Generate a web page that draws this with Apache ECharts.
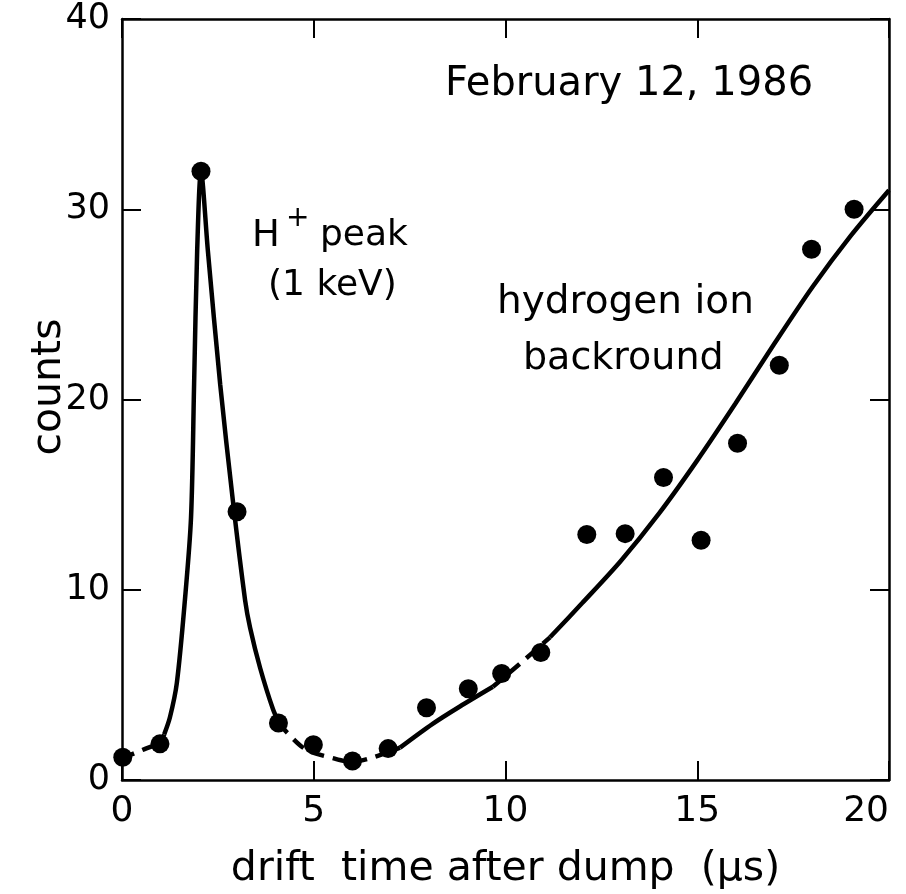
<!DOCTYPE html>
<html>
<head>
<meta charset="utf-8">
<script src="https://cdn.jsdelivr.net/npm/echarts@6/dist/echarts.min.js"></script>
<style>
html,body{margin:0;padding:0;background:#fff;overflow:hidden;}
#chart{position:absolute;left:0;top:0;width:906px;height:894px;}
</style>
</head>
<body>
<div id="chart"></div>
<script>
// Measured data points
var driftTime = [0.02, 0.99, 2.06, 3.0, 4.08, 4.99, 6.01, 6.94, 7.94, 9.03, 9.9, 10.92, 12.12, 13.12, 14.12, 15.1, 16.05, 17.14, 17.98, 19.09];
var counts    = [1.2, 1.9, 32.0, 14.1, 3.0, 1.85, 1.0, 1.65, 3.8, 4.8, 5.6, 6.7, 12.9, 12.95, 15.9, 12.6, 17.7, 21.8, 27.9, 30.0];

// Hand-drawn fit curve, split into solid and dashed pieces
var curveA_x = [0, 0.5, 1.0, 1.1];            // dashed
var curveA_y = [1.15, 1.55, 2.0, 2.4];
var curveB_x = [1.1, 1.25, 1.43, 1.64, 1.80, 1.88, 1.96, 2.06, 2.24, 2.56, 2.89, 3.21, 3.34, 3.6, 3.94, 4.1]; // solid
var curveB_y = [2.4, 3.3, 5.1, 9.45, 13.8, 20.8, 27.8, 32.0, 27.8, 20.8, 14.7, 9.45, 8.0, 5.9, 3.7, 3.0];
var curveC_x = [4.1, 4.3, 4.8, 5.5, 6.0, 6.4, 7.0, 7.25];   // dashed
var curveC_y = [3.0, 2.5, 1.6, 1.15, 0.95, 1.1, 1.5, 1.7];
var curveD_x = [7.25, 8.1, 8.8, 9.67];         // solid
var curveD_y = [1.7, 2.95, 3.85, 4.9];
var curveE_x = [9.67, 10.4, 11.16];            // dashed
var curveE_y = [4.9, 6.15, 7.5];
var curveF_x = [11.16, 12.0, 13.0, 14.0, 15.0, 16.0, 17.0, 18.0, 19.0, 20.0]; // solid
var curveF_y = [7.5, 9.3, 11.5, 14.0, 16.8, 19.8, 22.9, 25.9, 28.6, 31.0];

var xTicks = [0, 5, 10, 15, 20];
var yTicks = [0, 10, 20, 30, 40];

function pairs(xs, ys){ return xs.map(function(x,i){ return [x, ys[i]]; }); }

var FONT = 'DejaVu Sans';
var chart = echarts.init(document.getElementById('chart'), null, {renderer:'canvas'});

function curveSeries(xs, ys, dashed){
  return {
    type:'line', data:pairs(xs, ys), showSymbol:false, symbol:'none', smooth:0.3,
    lineStyle:{color:'#000', width:4.5, type: dashed ? [13, 9] : 'solid', cap:'butt', opacity:1},
    z:2, animation:false, silent:true
  };
}

var axisLine = {show:true, onZero:false, lineStyle:{color:'#000', width:2.5}};
var tick = {show:true, inside:true, length:19, lineStyle:{color:'#000', width:2}};

chart.setOption({
  animation:false,
  backgroundColor:'#fff',
  grid:{left:122, right:17, top:19, bottom:114, containLabel:false, outerBoundsMode:'none'},
  xAxis:[
    {type:'value', min:xTicks[0], max:xTicks[xTicks.length-1], interval:5, position:'bottom',
     axisLine:axisLine, axisTick:tick, splitLine:{show:false},
     axisLabel:{color:'#000', fontFamily:FONT, fontSize:36, margin:14, alignMaxLabel:'right'},
     name:'drift  time after dump  (\u03bcs)', nameLocation:'middle', nameGap:69,
     nameTextStyle:{color:'#000', fontFamily:FONT, fontSize:41}},
    {type:'value', min:0, max:20, interval:5, position:'top',
     axisLine:axisLine, axisTick:tick, splitLine:{show:false}, axisLabel:{show:false}}
  ],
  yAxis:[
    {type:'value', min:yTicks[0], max:yTicks[yTicks.length-1], interval:10, position:'left',
     axisLine:axisLine, axisTick:tick, splitLine:{show:false},
     axisLabel:{color:'#000', fontFamily:FONT, fontSize:35, margin:12}},
    {type:'value', min:0, max:40, interval:10, position:'right',
     axisLine:axisLine, axisTick:tick, splitLine:{show:false}, axisLabel:{show:false}}
  ],
  graphic:[
    {type:'text', x:49, y:387, rotation:Math.PI/2,
     style:{text:'counts', fill:'#000', font:'41px "DejaVu Sans"', textAlign:'center', textVerticalAlign:'middle'}},
    {type:'text', left:445, top:65, style:{text:'February 12, 1986', fill:'#000', font:'40px "DejaVu Sans"'}},
    {type:'text', left:252, top:218, style:{text:'H', fill:'#000', font:'37px "DejaVu Sans"'}},
    {type:'text', left:286, top:205, style:{text:'+', fill:'#000', font:'28px "DejaVu Sans"'}},
    {type:'text', left:320, top:218, style:{text:'peak', fill:'#000', font:'36px "DejaVu Sans"'}},
    {type:'text', left:268, top:268, style:{text:'(1 keV)', fill:'#000', font:'36px "DejaVu Sans"'}},
    {type:'text', left:497, top:283, style:{text:'hydrogen ion', fill:'#000', font:'39px "DejaVu Sans"'}},
    {type:'text', left:523, top:340, style:{text:'backround', fill:'#000', font:'38px "DejaVu Sans"'}}
  ],
  series:[
    curveSeries(curveA_x, curveA_y, true),
    curveSeries(curveB_x, curveB_y, false),
    curveSeries(curveC_x, curveC_y, true),
    curveSeries(curveD_x, curveD_y, false),
    curveSeries(curveE_x, curveE_y, true),
    curveSeries(curveF_x, curveF_y, false),
    {type:'scatter', data:pairs(driftTime, counts), symbol:'circle', symbolSize:19,
     itemStyle:{color:'#000', opacity:1}, z:3, animation:false}
  ]
});
</script>
</body>
</html>
